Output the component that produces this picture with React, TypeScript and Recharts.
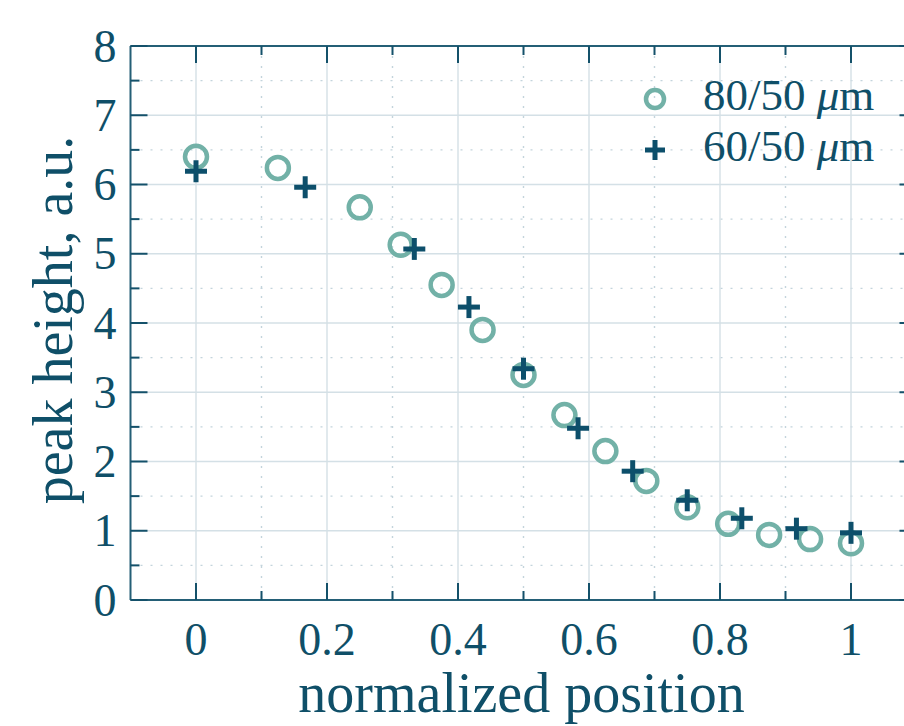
import React from 'react';
import { ScatterChart, Scatter, XAxis, YAxis, CartesianGrid, Label } from 'recharts';

// ---- data ----
const xs80 = [0, 0.125, 0.25, 0.3125, 0.375, 0.4375, 0.5, 0.5625, 0.625, 0.6875, 0.75, 0.8125, 0.875, 0.9375, 1];
const ys80 = [6.4, 6.24, 5.67, 5.13, 4.55, 3.9, 3.25, 2.67, 2.15, 1.72, 1.34, 1.1, 0.94, 0.88, 0.82];
const xs60 = [0, 0.1667, 0.3333, 0.4167, 0.5, 0.5833, 0.6667, 0.75, 0.8333, 0.9167, 1];
const ys60 = [6.19, 5.96, 5.07, 4.23, 3.34, 2.48, 1.86, 1.44, 1.18, 1.03, 0.97];
const seriesNames = ['80/50', '60/50'];
const unitLabel = 'μ';
const unitSuffix = 'm';
const xMajorTicks = [0, 0.2, 0.4, 0.6, 0.8, 1];
const xMinorTicks = [0.1, 0.3, 0.5, 0.7, 0.9];
const yMajorTicks = [0, 1, 2, 3, 4, 5, 6, 7, 8];
const yMinorTicks = [0.5, 1.5, 2.5, 3.5, 4.5, 5.5, 6.5, 7.5];
const xDomain = [-0.1, 1.1];
const yDomain = [0, 8];
const xTitle = 'normalized position';
const yTitle = 'peak height, a.u.';

const data80 = xs80.map((x, i) => ({ x, y: ys80[i] }));
const data60 = xs60.map((x, i) => ({ x, y: ys60[i] }));
const xAllTicks = [...xMajorTicks, ...xMinorTicks].sort((a, b) => a - b);
const yAllTicks = [...yMajorTicks, ...yMinorTicks].sort((a, b) => a - b);

// ---- styles ----
const FONT = '"Liberation Serif", "Times New Roman", serif';
const TEXT = '#0f4f68';
const AXIS = '#245f76';
const TICK = '#14516a';
const GRID_MAJOR = '#d4e0e6';
const GRID_MINOR = '#c3d4dc';
const C80 = '#72b1a7';
const C60 = '#0d4f6b';
const MAJOR_LEN = 17;
const MINOR_LEN = 9;

const isIn = (arr: number[], v: number) => arr.some((t) => Math.abs(t - v) < 1e-9);

const BottomTick = (props: any) => {
  const { x, y, payload } = props;
  const major = isIn(xMajorTicks, payload.value);
  return (
    <g>
      <line x1={x} x2={x} y1={y} y2={y - (major ? MAJOR_LEN : MINOR_LEN)} stroke={TICK} strokeWidth={2} />
      {major && (
        <text x={x} y={y + 39} textAnchor="middle" dominantBaseline="central" fill={TEXT} fontSize={46} fontFamily={FONT}>
          {String(payload.value)}
        </text>
      )}
    </g>
  );
};

const TopTick = (props: any) => {
  const { x, y, payload } = props;
  const major = isIn(xMajorTicks, payload.value);
  return <line x1={x} x2={x} y1={y} y2={y + (major ? MAJOR_LEN : MINOR_LEN)} stroke={TICK} strokeWidth={2} />;
};

const LeftTick = (props: any) => {
  const { x, y, payload } = props;
  const major = isIn(yMajorTicks, payload.value);
  return (
    <g>
      <line x1={x} x2={x + (major ? MAJOR_LEN : MINOR_LEN)} y1={y} y2={y} stroke={TICK} strokeWidth={2} />
      {major && (
        <text x={x - 14} y={y} textAnchor="end" dominantBaseline="central" fill={TEXT} fontSize={46} fontFamily={FONT}>
          {String(payload.value)}
        </text>
      )}
    </g>
  );
};

const RightTick = (props: any) => {
  const { x, y, payload } = props;
  const major = isIn(yMajorTicks, payload.value);
  return <line x1={x} x2={x - (major ? MAJOR_LEN : MINOR_LEN)} y1={y} y2={y} stroke={TICK} strokeWidth={2} />;
};

const RingShape = (props: any) => (
  <circle cx={props.cx} cy={props.cy} r={11} fill="none" stroke={C80} strokeWidth={4.5} />
);

const PlusShape = (props: any) => {
  const { cx, cy } = props;
  const h = 11;
  return (
    <g stroke={C60} strokeWidth={5}>
      <line x1={cx - h} x2={cx + h} y1={cy} y2={cy} />
      <line x1={cx} x2={cx} y1={cy - h} y2={cy + h} />
    </g>
  );
};

const XTitle = (props: any) => {
  const vb = props.viewBox || { x: 130.5, y: 600, width: 786, height: 126 };
  return (
    <text x={vb.x + vb.width / 2 - 2} y={vb.y + 112} textAnchor="middle" fill={TEXT} fontSize={56} fontFamily={FONT}>
      {xTitle}
    </text>
  );
};

const YTitle = (props: any) => {
  const vb = props.viewBox || { x: 0, y: 46, width: 130.5, height: 554 };
  const cx = 72;
  const cy = vb.y + vb.height / 2 - 3;
  return (
    <text x={cx} y={cy} transform={`rotate(-90 ${cx} ${cy})`} textAnchor="middle" fill={TEXT} fontSize={56} fontFamily={FONT}>
      {yTitle}
    </text>
  );
};

const LegendOverlay = () => (
  <svg width={904} height={200} style={{ position: 'absolute', left: 0, top: 0, pointerEvents: 'none' }}>
    <circle cx={655} cy={99} r={9} fill="none" stroke={C80} strokeWidth={4.5} />
    <text x={703} y={110} fill={TEXT} fontSize={45} fontFamily={FONT}>
      {seriesNames[0] + ' '}
      <tspan fontStyle="italic">{unitLabel}</tspan>
      {unitSuffix}
    </text>
    <g stroke={C60} strokeWidth={5}>
      <line x1={655 - 10} x2={655 + 10} y1={150} y2={150} />
      <line x1={655} x2={655} y1={140} y2={160} />
    </g>
    <text x={703} y={161} fill={TEXT} fontSize={45} fontFamily={FONT}>
      {seriesNames[1] + ' '}
      <tspan fontStyle="italic">{unitLabel}</tspan>
      {unitSuffix}
    </text>
  </svg>
);

export default function App() {
  return (
    <div style={{ position: 'fixed', left: 0, top: 0, width: 904, height: 726, overflow: 'hidden', background: '#fff' }}>
      <ScatterChart width={937} height={726} margin={{ top: 0, right: 0, bottom: 0, left: 0 }}>
        <CartesianGrid
          xAxisId="bottom"
          yAxisId="left"
          stroke={GRID_MINOR}
          strokeWidth={1.4}
          strokeDasharray="2 8"
          verticalValues={xMinorTicks}
          horizontalValues={yMinorTicks}
        />
        <CartesianGrid
          xAxisId="bottom"
          yAxisId="left"
          stroke={GRID_MAJOR}
          strokeWidth={1.4}
          verticalValues={xMajorTicks}
          horizontalValues={yMajorTicks}
        />
        <XAxis
          xAxisId="bottom"
          orientation="bottom"
          type="number"
          dataKey="x"
          domain={xDomain}
          ticks={xAllTicks}
          interval={0}
          allowDataOverflow
          height={126}
          tickSize={0}
          tickMargin={0}
          tickLine={false}
          tick={<BottomTick />}
          axisLine={{ stroke: AXIS, strokeWidth: 2 }}
        >
          <Label content={<XTitle />} />
        </XAxis>
        <XAxis
          xAxisId="top"
          orientation="top"
          type="number"
          dataKey="x"
          domain={xDomain}
          ticks={xAllTicks}
          interval={0}
          allowDataOverflow
          height={46}
          tickSize={0}
          tickMargin={0}
          tickLine={false}
          tick={<TopTick />}
          axisLine={{ stroke: AXIS, strokeWidth: 2 }}
        />
        <YAxis
          yAxisId="left"
          orientation="left"
          type="number"
          dataKey="y"
          domain={yDomain}
          ticks={yAllTicks}
          interval={0}
          allowDataOverflow
          width={130.5}
          tickSize={0}
          tickMargin={0}
          tickLine={false}
          tick={<LeftTick />}
          axisLine={{ stroke: AXIS, strokeWidth: 2 }}
        >
          <Label content={<YTitle />} />
        </YAxis>
        <YAxis
          yAxisId="right"
          orientation="right"
          type="number"
          dataKey="y"
          domain={yDomain}
          ticks={yAllTicks}
          interval={0}
          allowDataOverflow
          width={20.5}
          tickSize={0}
          tickMargin={0}
          tickLine={false}
          tick={<RightTick />}
          axisLine={{ stroke: AXIS, strokeWidth: 2 }}
        />
        <Scatter
          name={seriesNames[0]}
          data={data80}
          xAxisId="bottom"
          yAxisId="left"
          shape={<RingShape />}
          isAnimationActive={false}
        />
        <Scatter
          name={seriesNames[1]}
          data={data60}
          xAxisId="bottom"
          yAxisId="left"
          shape={<PlusShape />}
          isAnimationActive={false}
        />
      </ScatterChart>
      <LegendOverlay />
    </div>
  );
}
